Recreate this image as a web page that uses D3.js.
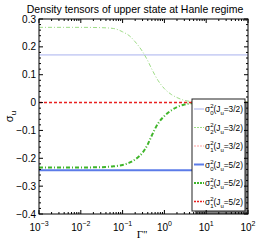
<!DOCTYPE html>
<html>
<head>
<meta charset="utf-8">
<script src="https://cdn.jsdelivr.net/npm/d3@7"></script>
<style>
  body { margin: 0; background: #fff; }
  svg { display: block; }
  text { font-family: "Liberation Sans", Arial, sans-serif; fill: #000; }
</style>
</head>
<body>
<div id="chart"></div>
<script>
// Gamma grid (log axis) and the read-off tensor values
const gammaGrid = [0.001, 0.01, 0.03, 0.06, 0.1, 0.15, 0.2, 0.3, 0.4, 0.5, 0.7, 1, 1.5, 2, 3, 5, 10, 100];
const sigma2Ju32 = [0.270, 0.270, 0.269, 0.266, 0.254, 0.238, 0.218, 0.183, 0.150, 0.120, 0.080, 0.050, 0.028, 0.018, 0.008, 0.003, 0.001, 0];
const sigma2Ju52 = [-0.233, -0.233, -0.232, -0.229, -0.224, -0.215, -0.204, -0.180, -0.150, -0.118, -0.076, -0.048, -0.027, -0.016, -0.007, -0.002, -0.001, 0];
const gammaEnds = [0.001, 100];
const sigma0Ju32 = [0.171, 0.171];
const sigma0Ju52 = [-0.243, -0.243];
const sigma1Ju32 = [0, 0];
const sigma1Ju52 = [0, 0];

const xTicks = [-3, -2, -1, 0, 1, 2];
const yTicks = [0.3, 0.2, 0.1, 0, -0.1, -0.2, -0.3, -0.4];

const width = 274, height = 242;
const plot = { left: 39, right: 248, top: 19, bottom: 214 };

const svg = d3.select("#chart").append("svg")
    .attr("width", width)
    .attr("height", height);

const x = d3.scaleLog().domain([1e-3, 1e2]).range([plot.left, plot.right]);
const y = d3.scaleLinear().domain([-0.4, 0.3]).range([plot.bottom, plot.top]);

const line = d3.line()
    .x(d => x(d[0]))
    .y(d => y(d[1]))
    .curve(d3.curveMonotoneX);

const series = [
    { g: gammaEnds, v: sigma0Ju32, color: "#a9b1ee", w: 1, dash: null, sub: "0", ju: "3/2" },
    { g: gammaGrid, v: sigma2Ju32, color: "#9edc86", w: 1, dash: "4,2,1,2", sub: "2", ju: "3/2" },
    { g: gammaEnds, v: sigma1Ju32, color: "#ff9f9f", w: 1, dash: "3,2", sub: "1", ju: "3/2" },
    { g: gammaEnds, v: sigma0Ju52, color: "#5b7be8", w: 2, dash: null, sub: "0", ju: "5/2" },
    { g: gammaGrid, v: sigma2Ju52, color: "#3fb52a", w: 2, dash: "4,2,1,2", sub: "2", ju: "5/2" },
    { g: gammaEnds, v: sigma1Ju52, color: "#e82020", w: 1.5, dash: "3,2", sub: "1", ju: "5/2" }
];

svg.append("defs").append("clipPath").attr("id", "clip")
    .append("rect")
    .attr("x", plot.left).attr("y", plot.top)
    .attr("width", plot.right - plot.left).attr("height", plot.bottom - plot.top);

const lines = svg.append("g").attr("clip-path", "url(#clip)");
series.forEach(s => {
    lines.append("path")
        .datum(s.g.map((g, i) => [g, s.v[i]]))
        .attr("fill", "none")
        .attr("stroke", s.color)
        .attr("stroke-width", s.w)
        .attr("stroke-dasharray", s.dash)
        .attr("d", line);
});

// legend
const lg = { x0: 192, y0: 99, x1: 245, y1: 211 };
svg.append("rect")
    .attr("x", lg.x0 + 3).attr("y", lg.y0 + 3)
    .attr("width", lg.x1 - lg.x0).attr("height", lg.y1 - lg.y0)
    .attr("fill", "#808080");
svg.append("rect")
    .attr("x", lg.x0).attr("y", lg.y0)
    .attr("width", lg.x1 - lg.x0).attr("height", lg.y1 - lg.y0)
    .attr("fill", "#fff").attr("stroke", "#222").attr("stroke-width", 1);

series.forEach((s, i) => {
    const cy = 109 + i * 18.5;
    svg.append("line")
        .attr("x1", 194).attr("x2", 204)
        .attr("y1", cy).attr("y2", cy)
        .attr("stroke", s.color)
        .attr("stroke-width", s.w)
        .attr("stroke-dasharray", s.dash ? "2,1" : null);
    const t = svg.append("text")
        .attr("x", 205).attr("y", cy + 3)
        .style("font-size", "8.3px");
    t.append("tspan").text("σ");
    t.append("tspan").attr("dy", -4).style("font-size", "6px").text("2");
    t.append("tspan").attr("dx", -3.3).attr("dy", 7).style("font-size", "6px").text(s.sub);
    t.append("tspan").attr("dy", -3).text("(J");
    t.append("tspan").attr("dy", 3).style("font-size", "6px").text("u");
    t.append("tspan").attr("dy", -3).text("=" + s.ju + ")");
});

// axes frame and ticks
const axes = svg.append("g").attr("stroke", "#000").attr("stroke-width", 1);
axes.append("rect")
    .attr("x", plot.left).attr("y", plot.top)
    .attr("width", plot.right - plot.left).attr("height", plot.bottom - plot.top)
    .attr("fill", "none");

xTicks.forEach(e => {
    const px = x(Math.pow(10, e));
    axes.append("line").attr("x1", px).attr("x2", px).attr("y1", plot.bottom).attr("y2", plot.bottom - 4);
    axes.append("line").attr("x1", px).attr("x2", px).attr("y1", plot.top).attr("y2", plot.top + 4);
    if (e < 2) {
        for (let k = 2; k <= 9; k++) {
            const mx = x(k * Math.pow(10, e));
            axes.append("line").attr("x1", mx).attr("x2", mx).attr("y1", plot.bottom).attr("y2", plot.bottom - 2);
            axes.append("line").attr("x1", mx).attr("x2", mx).attr("y1", plot.top).attr("y2", plot.top + 2);
        }
    }
    const t = svg.append("text")
        .attr("x", px).attr("y", 231)
        .attr("text-anchor", "middle")
        .style("font-size", "10px");
    t.append("tspan").text("10");
    t.append("tspan").attr("dy", -5).style("font-size", "7px").text(e < 0 ? "\u2212" + (-e) : e);
});

d3.range(-40, 31, 2).forEach(v => {
    const py = y(v / 100);
    const len = v % 10 === 0 ? 4 : 2;
    axes.append("line").attr("x1", plot.left).attr("x2", plot.left + len).attr("y1", py).attr("y2", py);
    axes.append("line").attr("x1", plot.right).attr("x2", plot.right - len).attr("y1", py).attr("y2", py);
});

yTicks.forEach(v => {
    svg.append("text")
        .attr("x", 36).attr("y", y(v) + 3.5)
        .attr("text-anchor", "end")
        .style("font-size", "10px")
        .text(v === 0 ? "0" : d3.format(".1f")(v).replace("-", "\u2212"));
});

// title and labels
svg.append("text")
    .attr("x", 135).attr("y", 13)
    .attr("text-anchor", "middle")
    .style("font-size", "10.5px")
    .text("Density tensors of upper state at Hanle regime");

const yl = svg.append("text")
    .attr("transform", `translate(13, ${(plot.top + plot.bottom) / 2}) rotate(-90)`)
    .attr("text-anchor", "middle")
    .style("font-size", "11px");
yl.append("tspan").text("σ");
yl.append("tspan").attr("dy", 3).style("font-size", "8px").text("u");

svg.append("text")
    .attr("x", 142).attr("y", 238)
    .attr("text-anchor", "middle")
    .style("font-family", "'Liberation Serif', serif")
    .style("font-size", "11px")
    .text("Γ''");
</script>
</body>
</html>
